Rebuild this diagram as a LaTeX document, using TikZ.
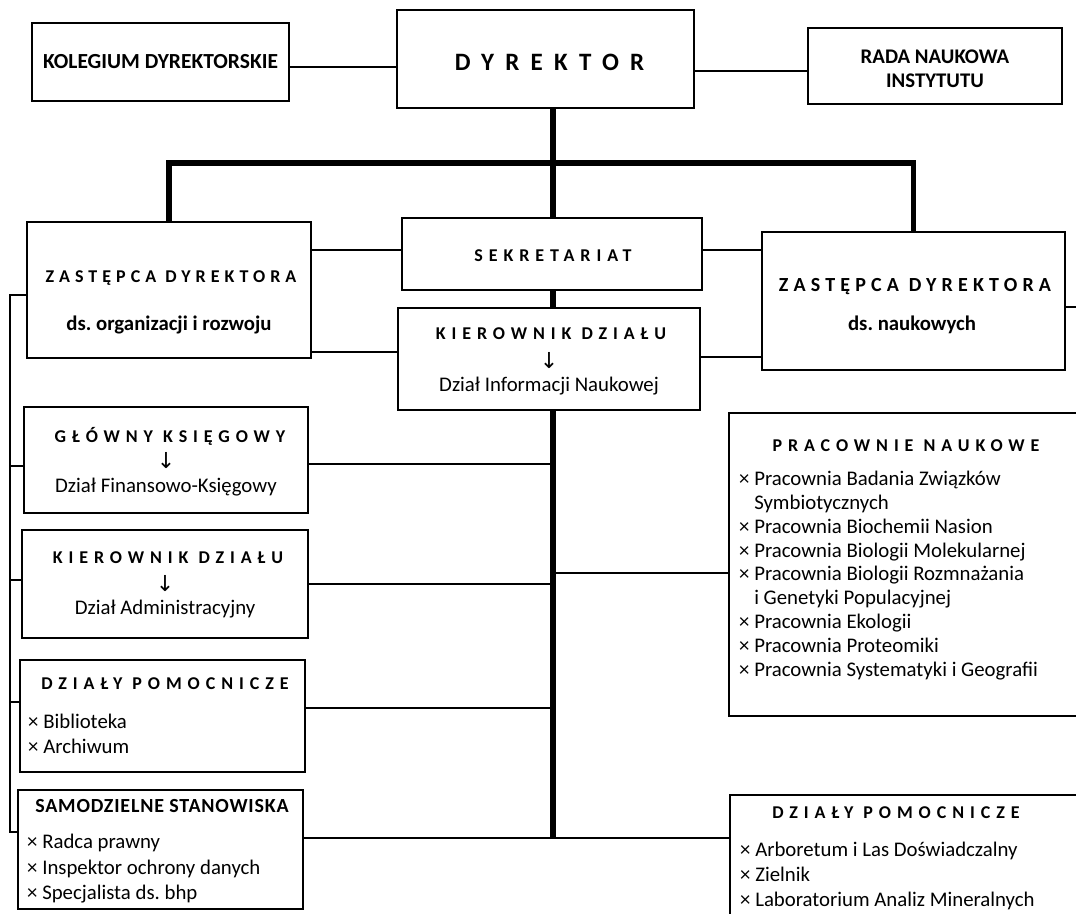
\documentclass[tikz,border=0pt]{standalone}
\usepackage{fontspec}
\setmainfont{Carlito}
\newfontfamily\arrfont{DejaVu Sans}
\usetikzlibrary{calc}
\newcommand\arr{{\arrfont\fontsize{22}{24}\selectfont ↓}}
\begin{document}
\frenchspacing
\begin{tikzpicture}[x=1pt,y=-1pt,
  box/.style={draw, line width=1.8pt, fill=white, inner sep=0pt, align=center},
  thinln/.style={line width=1.8pt},
  thickln/.style={line width=5.5pt},
  plain/.style={inner sep=0pt, font=\fontsize{20.8}{25}\selectfont},
  bplain/.style={inner sep=0pt, font=\fontsize{20.8}{25}\selectfont\bfseries},
  ttl/.style={inner sep=0pt, font=\fontsize{18}{22}\selectfont\bfseries\addfontfeatures{LetterSpace=33}},
  lst/.style={inner sep=0pt, anchor=north west, align=left},
]
\clip (0,0) rectangle (1076,913);
\useasboundingbox (0,0) rectangle (1076,913);
\newcommand\bx[6][]{\node[box,#1, minimum width={(#5-#3)*1pt}, minimum height={(#6-#4)*1pt}] (#2) at ({(#3+#5)/2},{(#4+#6)/2}) {};}
% coordinates
\coordinate (sp) at (553,838);
\coordinate (bar) at (553,163);
\coordinate (lb) at (10,832);
\coordinate (edge) at (1076,307);
% boxes
\bx{kol}{32}{23}{289}{101}
\bx{dyr}{397}{10}{694}{108}
\bx{rada}{808}{28}{1062}{104}
\bx{zl}{27}{222}{311}{358}
\bx{sek}{402}{218}{702}{290}
\bx{kin}{398}{308}{700}{410}
\bx{zr}{762}{232}{1065}{370}
\bx{gk}{24}{407}{308}{513}
\bx{kad}{22}{530}{308}{638}
\bx{dpl}{20}{660}{305}{772}
\bx{sam}{18}{790}{303}{909}
\bx{pn}{729}{413}{1095}{716}
\bx{dpr}{730}{795}{1095}{930}
% texts
\node[inner sep=0pt, font=\fontsize{21.5}{25}\selectfont\bfseries] (kolt) at (kol) {KOLEGIUM DYREKTORSKIE};
\node[inner sep=0pt, font=\fontsize{25}{30}\selectfont\bfseries\addfontfeatures{LetterSpace=45}] (dyrt) at ([xshift=4pt,yshift=-3pt]dyr) {DYREKTOR};
\node[inner sep=0pt, align=center, font=\fontsize{20.8}{23.5}\selectfont\bfseries] (radat) at ([yshift=-3pt]rada) {RADA NAUKOWA\\INSTYTUTU};
\node[inner sep=0pt, font=\fontsize{18}{22}\selectfont\bfseries\addfontfeatures{LetterSpace=28}] (zlt) at (171,278) {ZASTĘPCA DYREKTORA};
\node[bplain] (zls) at (169,325) {ds. organizacji i rozwoju};
\node[ttl] (sekt) at (553,256) {SEKRETARIAT};
\node[ttl] (kint) at (551,334) {KIEROWNIK DZIAŁU};
\node[inner sep=0pt] (kina) at (549,361) {\arr};
\node[plain] (kins) at (549,386) {Dział Informacji Naukowej};
\node[inner sep=0pt, font=\fontsize{20}{24}\selectfont\bfseries\addfontfeatures{LetterSpace=26}] (zrt) at (915,287) {ZASTĘPCA DYREKTORA};
\node[bplain] (zrs) at (912,325) {ds. naukowych};
\node[ttl] (gkt) at (170,436) {GŁÓWNY KSIĘGOWY};
\node[inner sep=0pt] (gka) at (166,461) {\arr};
\node[plain] (gks) at (166,487) {Dział Finansowo-Księgowy};
\node[ttl] (kadt) at (168,558) {KIEROWNIK DZIAŁU};
\node[inner sep=0pt] (kada) at (165,584) {\arr};
\node[plain] (kads) at (165,609) {Dział Administracyjny};
\node[ttl] (dplt) at (165,684) {DZIAŁY POMOCNICZE};
\node[lst, font=\fontsize{20.8}{25}\selectfont] (dpll) at (28,714) {× Biblioteka\\× Archiwum};
\node[inner sep=0pt, font=\fontsize{20}{24}\selectfont\bfseries\addfontfeatures{LetterSpace=4}] (samt) at (162,806) {SAMODZIELNE STANOWISKA};
\node[lst, font=\fontsize{20.8}{25.5}\selectfont] (saml) at (27,834) {× Radca prawny\\× Inspektor ochrony danych\\× Specjalista ds. bhp};
\node[ttl] (pnt) at (906,446) {PRACOWNIE NAUKOWE};
\node[lst, font=\fontsize{20.8}{23.8}\selectfont] (pnl) at (739,471) {× Pracownia Badania Związków\\\phantom{×} Symbiotycznych\\× Pracownia Biochemii Nasion\\× Pracownia Biologii Molekularnej\\× Pracownia Biologii Rozmnażania\\\phantom{×} i Genetyki Populacyjnej\\× Pracownia Ekologii\\× Pracownia Proteomiki\\× Pracownia Systematyki i Geografii};
\node[ttl] (dprt) at (896,813) {DZIAŁY POMOCNICZE};
\node[lst, font=\fontsize{20.8}{25}\selectfont] (dprl) at (740,842) {× Arboretum i Las Doświadczalny\\× Zielnik\\× Laboratorium Analiz Mineralnych};
% connectors
\draw[thinln] (kol.east |- 0,67) -- (dyr.west |- 0,67);
\draw[thinln] (dyr.east |- 0,71) -- (rada.west |- 0,71);
\draw[thickln] (dyr.south -| sp) -- (sek.north -| sp);
\draw[thickln] (sek.south -| sp) -- (kin.north -| sp);
\draw[thickln] (kin.south -| sp) -- (sp);
\draw[thickln] (zl.north) |- (bar) -| (zr.north);
\draw[thinln] (zl.east |- 0,250) -- (sek.west |- 0,250);
\draw[thinln] (zl.east |- 0,352) -- (kin.west |- 0,352);
\draw[thinln] (sek.east |- 0,250) -- (zr.west |- 0,250);
\draw[thinln] (kin.east |- 0,357) -- (zr.west |- 0,357);
\draw[thinln] (zr.east |- edge) -- (edge);
\draw[thinln] (gk.east |- 0,464) -- (sp |- 0,464);
\draw[thinln] (kad.east |- 0,584) -- (sp |- 0,584);
\draw[thinln] (dpl.east |- 0,708) -- (sp |- 0,708);
\draw[thinln] (sam.east |- sp) -- (sp);
\draw[thinln] (sp |- 0,573) -- (pn.west |- 0,573);
\draw[thinln] (sp) -- (dpr.west |- sp);
\draw[thinln] (zl.west |- 0,295) -| (lb) -- (sam.west |- lb);
\draw[thinln] (lb |- 0,466) -- (gk.west |- 0,466);
\draw[thinln] (lb |- 0,580) -- (kad.west |- 0,580);
\draw[thinln] (lb |- 0,702) -- (dpl.west |- 0,702);
\end{tikzpicture}
\end{document}
